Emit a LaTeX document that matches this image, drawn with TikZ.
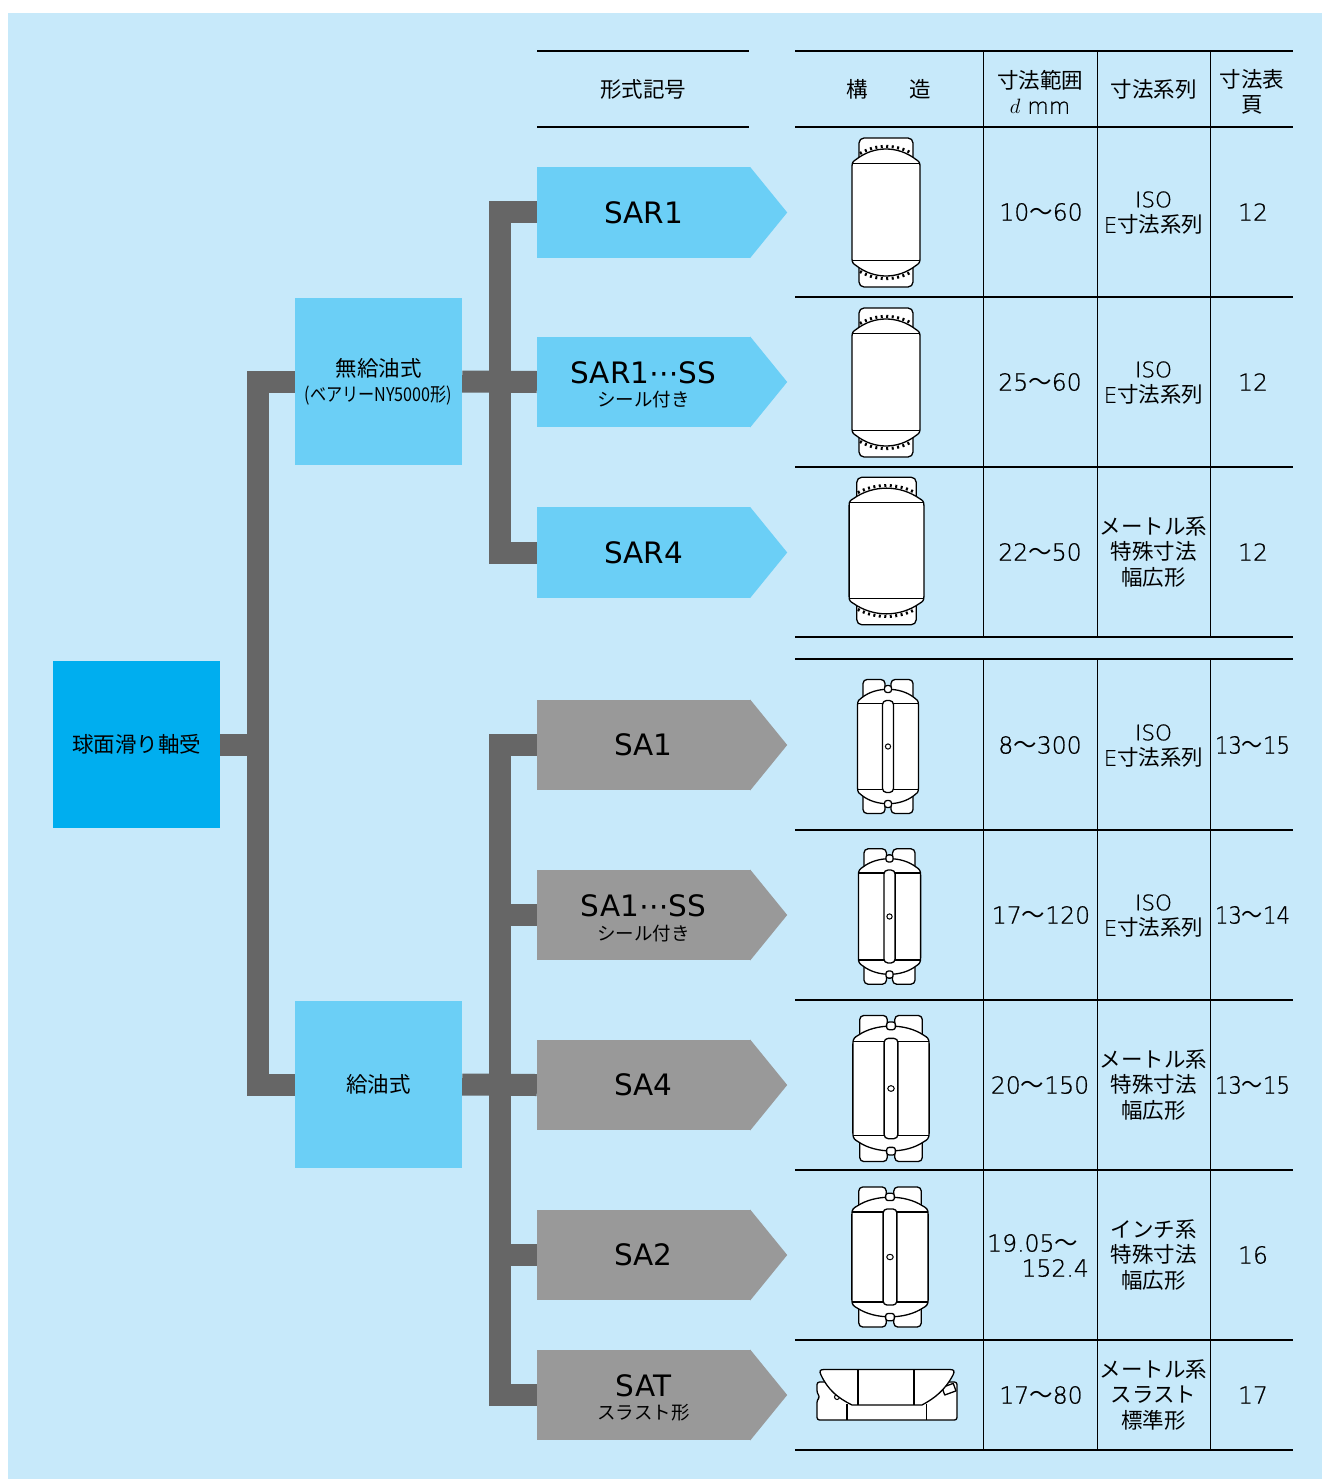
\documentclass[tikz,border=0pt]{standalone}
\usepackage{fontspec}
\setmainfont{DejaVu Sans ExtraLight}[RawFeature={embolden=0.8}]
\newfontfamily\reg{DejaVu Sans}
\newfontfamily\jp{Noto Sans CJK JP}
\definecolor{bgblue}{HTML}{C7E9FA}
\definecolor{tagblue}{HTML}{6BCFF6}
\definecolor{rootblue}{HTML}{00AEEF}
\definecolor{taggray}{HTML}{999999}
\definecolor{trunkgray}{HTML}{666666}
\tikzset{
  boxnode/.style={rectangle,minimum width=167pt,minimum height=167pt,inner sep=0pt,align=center,text=black,font=\fontsize{21.5}{25}\selectfont},
  rootbox/.style={boxnode,fill=rootblue},
  midbox/.style={boxnode,fill=tagblue},
  tagbody/.style={rectangle,minimum width=213pt,minimum height=90.5pt,inner sep=0pt,align=center,text=black,font=\fontsize{25}{25.5}\selectfont},
  trunk/.style={draw=trunkgray,line width=22pt},
  rule/.style={line width=1.6pt,black},
  hd/.style={inner sep=0pt,align=center,font=\fontsize{21.5}{25.5}\selectfont\jp},
  num/.style={inner sep=0pt,align=center,font=\fontsize{23.5}{26}\selectfont},
  kind/.style={inner sep=0pt,align=center,font=\fontsize{21.5}{25.5}\selectfont},
  bl/.style={draw=black,line width=1.3pt,fill=white,line join=round},
}
\newcommand{\mainlab}[1]{{\fontsize{29.5}{25.5}\selectfont\reg #1}}
\newcommand{\sublab}[1]{{\fontsize{18.5}{20}\selectfont\jp #1}}
\newcommand{\twolab}[2]{\rule{0pt}{28pt}\mainlab{#1}\\[-2pt]\sublab{#2}}
\newcommand{\tagtip}[2]{\fill[#2] (#1.north east) -- ([xshift=37pt]#1.east) -- (#1.south east) -- cycle;}
% sealed bearing without groove: centre x, y, xscale, yscale
\newcommand{\bearR}[4]{\begin{scope}[shift={(#1,#2)},xscale=#3,yscale=#4]
  \draw[bl,rounded corners=5pt] (-27,-74.5) rectangle (27,74.5);
  \draw[bl] (-34,-46) .. controls (-34,-50) and (-33,-51) .. (-30,-53) .. controls (-12,-67) and (12,-67) .. (30,-53) .. controls (33,-51) and (34,-50) .. (34,-46) -- (34,46) .. controls (34,50) and (33,51) .. (30,53) .. controls (12,67) and (-12,67) .. (-30,53) .. controls (-33,51) and (-34,50) .. (-34,46) -- cycle;
  \draw[line width=1.3pt] (-34,-49) -- (34,-49) (-34,48) -- (34,48);
  \draw[line width=3pt,dash pattern=on 2pt off 3.5pt] (-26,-59) .. controls (-10,-68.5) and (10,-68.5) .. (26,-59);
  \draw[line width=3pt,dash pattern=on 2pt off 3.5pt] (-26,59) .. controls (-10,68.5) and (10,68.5) .. (26,59);
\end{scope}}
% greased bearing with groove and hole
\newcommand{\bearG}[4]{\begin{scope}[shift={(#1,#2)},xscale=#3,yscale=#4]
  \draw[bl,rounded corners=4pt] (-25,-67) -- (-3,-67) -- (-3,-55) -- (3,-55) -- (3,-67) -- (25,-67) -- (25,67) -- (3,67) -- (3,55) -- (-3,55) -- (-3,67) -- (-25,67) -- cycle;
  \draw[bl] (-30.5,-41) .. controls (-30.5,-46) and (-29,-47) .. (-26,-49) .. controls (-12,-60) and (12,-60) .. (26,-49) .. controls (29,-47) and (30.5,-46) .. (30.5,-41) -- (30.5,41) .. controls (30.5,46) and (29,47) .. (26,49) .. controls (12,60) and (-12,60) .. (-26,49) .. controls (-29,47) and (-30.5,46) .. (-30.5,41) -- cycle;
  \draw[line width=1.3pt] (-30.5,-43) -- (30.5,-43) (-30.5,43) -- (30.5,43);
  \draw[bl,rounded corners=4pt] (-5.5,-46) rectangle (5.5,46);
  \draw[bl,rounded corners=2.5pt] (-3.5,-61) rectangle (3.5,-54);
  \draw[bl,rounded corners=2.5pt] (-3.5,54) rectangle (3.5,61);
  \draw[line width=1pt,fill=white] (0,0) circle[radius=2.6pt];
\end{scope}}
\begin{document}
\begin{tikzpicture}[x=1pt,y=-1pt]
\useasboundingbox (0,0) rectangle (1322,1479);
\fill[bgblue] (8,13) rectangle (1322,1479);

% hierarchy nodes
\node[rootbox] (root) at (136.5,744.5) {{\jp 球面滑り軸受}};
\node[midbox] (mid1) at (378.5,381.5) {{\jp 無給油式}\\{\fontsize{19}{20}\selectfont\jp\scalebox{0.85}[1]{(ベアリーNY5000形)}}};
\node[midbox] (mid2) at (378.5,1084.5) {{\jp 給油式}};

\node[tagbody,fill=tagblue] (sar1) at (643.5,212.5) {\mainlab{SAR1}};
\node[tagbody,fill=tagblue] (sar1s) at (643.5,382) {\twolab{SAR1⋯SS}{シール付き}};
\node[tagbody,fill=tagblue] (sar4) at (643.5,552.5) {\mainlab{SAR4}};
\node[tagbody,fill=taggray] (sa1) at (643.5,745) {\mainlab{SA1}};
\node[tagbody,fill=taggray] (sa1s) at (643.5,915) {\twolab{SA1⋯SS}{シール付き}};
\node[tagbody,fill=taggray] (sa4) at (643.5,1085) {\mainlab{SA4}};
\node[tagbody,fill=taggray] (sa2) at (643.5,1255) {\mainlab{SA2}};
\node[tagbody,fill=taggray] (sat) at (643.5,1395) {\twolab{SAT}{スラスト形}};
\tagtip{sar1}{tagblue}\tagtip{sar1s}{tagblue}\tagtip{sar4}{tagblue}
\tagtip{sa1}{taggray}\tagtip{sa1s}{taggray}\tagtip{sa4}{taggray}\tagtip{sa2}{taggray}\tagtip{sat}{taggray}

% connectors
\coordinate (busA) at (257.5,744.5);
\coordinate (busB) at (500,382);
\coordinate (busC) at (500,915);
\draw[trunk] (root.east) -- (busA);
\draw[trunk] (mid1.west) -| (busA) |- (mid2.west);
\draw[trunk] (sar1.west) -| (busB) |- (sar4.west);
\draw[trunk] (mid1.east) -- (sar1s.west);
\draw[trunk] (sa1.west) -| (busC) |- (sat.west);
\draw[trunk] (sa1s.west) -- (busC);
\draw[trunk] (mid2.east) -- (sa4.west);
\draw[trunk] (sa2.west) -- (sa2.west -| busC);

% table rules
\foreach \yy in {51,127}{\draw[rule] (537,\yy) -- (749,\yy);}
\foreach \yy in {51,127,297,467,637,659,830,1000,1170,1340,1450}{\draw[rule] (795,\yy) -- (1293,\yy);}
\foreach \xx in {983.5,1097.5,1210.5}{\draw[rule] (\xx,51) -- (\xx,637) (\xx,659) -- (\xx,1450);}

% header
\node[hd] (h0) at (643,89) {形式記号};
\node[hd] (h1) at (888.5,89) {構\hspace{42pt}造};
\node[hd] (h2) at (1040,92) {寸法範囲\\{\fontsize{22}{25}\selectfont\rmfamily $d$ mm}};
\node[hd] (h3) at (1153.5,89) {寸法系列};
\node[hd] (h4) at (1252,92) {寸法表\\頁};

% structure drawings
\bearR{886}{212.5}{1}{1}
\bearR{886}{382.5}{1}{1}
\bearR{886.5}{551}{1.1}{0.99}
\bearG{888}{746.5}{1}{1}
\bearG{889.5}{916.5}{1.02}{1.01}
\bearG{891}{1088.5}{1.25}{1.09}
\bearG{890}{1257}{1.25}{1.045}
\begin{scope}
  \draw[bl,rounded corners=2.5pt] (817,1382) -- (957,1382) -- (957,1420) -- (817,1420) -- (817,1400) -- (820,1397) -- (817,1393) -- cycle;
  \draw[line width=1.3pt] (847,1404) -- (847,1420) (926.5,1404) -- (926.5,1420);
  \draw[bl,rotate around={20:(950,1392)}] (944,1385) rectangle (956,1393);
  \draw[line width=1pt,fill=white] (837,1397) circle[radius=2.5pt];
  \draw[bl] (824,1369.5) -- (950,1369.5) .. controls (954,1369.5) and (955,1371) .. (953,1375) .. controls (945,1390) and (935,1398) .. (922,1405) -- (852,1405) .. controls (838,1398) and (828,1390) .. (821,1375) .. controls (819,1371) and (820,1369.5) .. (824,1369.5) -- cycle;
  \draw[line width=1.3pt] (858,1370) -- (858,1405) (914,1370) -- (914,1405);
\end{scope}

% diameter column
\node[num] (d1) at (1041,212) {10{\jp ～}60};
\node[num] (d2) at (1040,382) {25{\jp ～}60};
\node[num] (d3) at (1040,552) {22{\jp ～}50};
\node[num] (d4) at (1040,745) {8{\jp ～}300};
\node[num] (d5) at (1041,915) {17{\jp ～}120};
\node[num] (d6) at (1040,1085) {20{\jp ～}150};
\node[num] (d7a) [anchor=west] at (987,1243) {19.05{\jp ～}};
\node[num] (d7b) [anchor=east] at (1089,1268) {152.4};
\node[num] (d8) at (1041,1395) {17{\jp ～}80};

% series column
\newcommand{\isoE}{ISO\\E{\jp 寸法系列}}
\newcommand{\metricW}{{\jp メートル系}\\{\jp 特殊寸法}\\{\jp 幅広形}}
\node[kind] (k1) at (1153.5,213) {\isoE};
\node[kind] (k2) at (1153.5,383) {\isoE};
\node[kind] (k3) at (1153.5,552) {\metricW};
\node[kind] (k4) at (1153.5,746) {\isoE};
\node[kind] (k5) at (1153.5,916) {\isoE};
\node[kind] (k6) at (1153.5,1085) {\metricW};
\node[kind] (k7) at (1153.5,1255) {{\jp インチ系}\\{\jp 特殊寸法}\\{\jp 幅広形}};
\node[kind] (k8) at (1153.5,1395) {{\jp メートル系}\\{\jp スラスト}\\{\jp 標準形}};

% page column
\newcommand{\pagerange}[2]{\scalebox{0.9}[1]{#1{\jp ～}#2}}
\node[num] (p1) at (1253,212) {12};
\node[num] (p2) at (1253,382) {12};
\node[num] (p3) at (1253,552) {12};
\node[num] (p4) at (1252.5,745) {\pagerange{13}{15}};
\node[num] (p5) at (1252.5,915) {\pagerange{13}{14}};
\node[num] (p6) at (1252.5,1085) {\pagerange{13}{15}};
\node[num] (p7) at (1253,1255) {16};
\node[num] (p8) at (1253,1395) {17};
\end{tikzpicture}
\end{document}
